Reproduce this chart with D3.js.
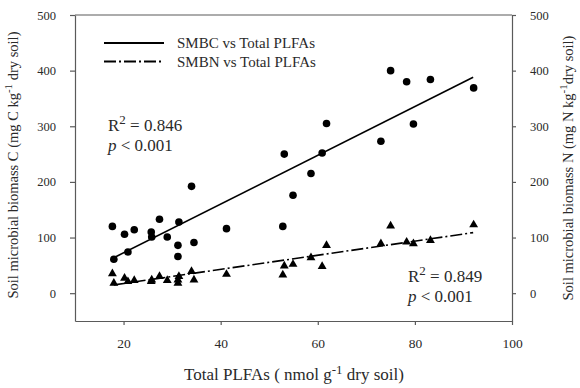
<!DOCTYPE html>
<html>
<head>
<meta charset="utf-8">
<script src="https://cdn.jsdelivr.net/npm/d3@7"></script>
<style>
    body { margin: 0; background: #fff; }
    svg text { font-family: 'Liberation Serif', 'Times New Roman', serif; fill: #2a2a2a; }
</style>
</head>
<body>
<svg id="chart" width="580" height="388"></svg>
<script>
'use strict';

// samples: total PLFAs vs microbial biomass C and N
let plfa = [17.7, 18.0, 20.2, 20.9, 22.2, 25.7, 25.8, 27.4, 29.0, 31.4, 31.2, 31.2,
    34.0, 34.5, 41.2, 52.8, 53.1, 54.9, 58.6, 60.9, 61.8, 73.0, 75.0, 78.3, 79.7, 83.2, 92.1];
let smbc = [120, 61, 106, 74, 114, 110, 101, 133, 101, 128, 86, 66,
    192, 91, 116, 120, 250, 176, 215, 252, 305, 273, 400, 380, 304, 384, 369];
let smbn = [35, 18, 27, 21, 23, 21, 24, 30, 23, 30, 24, 18,
    39, 24, 34, 33, 49, 52, 64, 48, 86, 89, 121, 92, 89, 95, 123];

// fitted lines: [slope, intercept]
let fitC = [4.38, -15];
let fitN = [1.27, -8];
let fitRange = [18, 92];

let xTicks = [20, 40, 60, 80, 100];
let yTicks = [0, 100, 200, 300, 400, 500];

let margin = {top: 15, right: 68, bottom: 67, left: 75};
let width = 580 - margin.left - margin.right;
let height = 388 - margin.top - margin.bottom;

let svg = d3.select('#chart');
let g = svg.append('g')
    .attr('transform', 'translate(' + margin.left + ',' + margin.top + ')');

let x = d3.scaleLinear().domain([10, 100]).range([0, width]);
let y = d3.scaleLinear().domain([-50, 500]).range([height, 0]);

let axisColor = '#5a5a5a';

function styleAxis(size) {
    return function(sel) {
        sel.selectAll('path, line').attr('stroke', axisColor).attr('stroke-width', 1.2);
        sel.selectAll('text').style('font-size', size).attr('fill', '#2a2a2a')
            .style('font-family', "'Liberation Serif', serif");
    };
}

g.append('g')
    .attr('transform', 'translate(0,' + height + ')')
    .call(d3.axisBottom(x).tickValues(xTicks).tickSize(4).tickSizeOuter(0).tickPadding(13))
    .call(styleAxis('13.5px'));

g.append('g')
    .call(d3.axisLeft(y).tickValues(yTicks).tickSize(5).tickSizeOuter(0).tickPadding(14))
    .call(styleAxis('12.5px'));

g.append('g')
    .attr('transform', 'translate(' + width + ',0)')
    .call(d3.axisRight(y).tickValues(yTicks).tickSize(4).tickSizeOuter(0).tickPadding(14))
    .call(styleAxis('12.5px'));

// top frame
g.append('line')
    .attr('x1', 0).attr('x2', width).attr('y1', 0).attr('y2', 0)
    .attr('stroke', axisColor).attr('stroke-width', 1.2);

// fit lines
let dashN = '12,3,2,3';
function fitLine(f, dash) {
    g.append('line')
        .attr('x1', x(fitRange[0])).attr('y1', y(f[0] * fitRange[0] + f[1]))
        .attr('x2', x(fitRange[1])).attr('y2', y(f[0] * fitRange[1] + f[1]))
        .attr('stroke', '#000').attr('stroke-width', 1.6)
        .attr('stroke-dasharray', dash);
}
fitLine(fitC, null);
fitLine(fitN, dashN);

// points
g.selectAll('.circ')
    .data(plfa)
    .enter().append('circle')
    .attr('class', 'circ')
    .attr('cx', function(d) {
        return x(d);
    })
    .attr('cy', function(d, i) {
        return y(smbc[i]);
    })
    .attr('r', 3.8)
    .attr('fill', '#000');

let tri = d3.symbol().type(d3.symbolTriangle).size(34);
g.selectAll('.tri')
    .data(plfa)
    .enter().append('path')
    .attr('class', 'tri')
    .attr('d', tri)
    .attr('transform', function(d, i) {
        return 'translate(' + x(d) + ',' + y(smbn[i]) + ')';
    })
    .attr('fill', '#000');

// legend
let legend = [
    {label: 'SMBC vs Total PLFAs', dash: null},
    {label: 'SMBN vs Total PLFAs', dash: dashN},
];
let lg = svg.append('g').attr('transform', 'translate(104,43)');
legend.forEach(function(d, i) {
    lg.append('line')
        .attr('x1', 0).attr('x2', 60).attr('y1', i * 18.5).attr('y2', i * 18.5)
        .attr('stroke', '#000').attr('stroke-width', 1.8)
        .attr('stroke-dasharray', d.dash);
    lg.append('text')
        .attr('x', 73).attr('y', i * 18.5 + 5)
        .style('font-size', '15px')
        .text(d.label);
});

// statistics
function stats(px, py, r2, gap) {
    let t = svg.append('text').attr('x', px).attr('y', py).style('font-size', '17px');
    t.append('tspan').text('R');
    t.append('tspan').attr('dy', -7).style('font-size', '13px').text('2');
    t.append('tspan').attr('dy', 7).text(' = ' + r2);
    let p = svg.append('text').attr('x', px).attr('y', py + gap).style('font-size', '17px');
    p.append('tspan').style('font-style', 'italic').text('p');
    p.append('tspan').text(' < 0.001');
}
stats(108, 131, '0.846', 20);
stats(408, 282, '0.849', 20);

// axis titles
function sup(t, parts, s) {
    t.append('tspan').text(parts[0]);
    t.append('tspan').attr('dy', -6).style('font-size', s).text(parts[1]);
    t.append('tspan').attr('dy', 6).text(parts[2]);
}

let xt = svg.append('text')
    .attr('x', 294).attr('y', 380)
    .attr('text-anchor', 'middle')
    .style('font-size', '17px');
sup(xt, ['Total PLFAs ( nmol g', '-1', ' dry soil)'], '13px');

let ylt = svg.append('text')
    .attr('transform', 'translate(18,' + (margin.top + height / 2 - 3) + ') rotate(-90)')
    .attr('text-anchor', 'middle')
    .style('font-size', '14.5px');
sup(ylt, ['Soil microbial biomass C (mg C kg', '-1', ' dry soil)'], '11px');

let yrt = svg.append('text')
    .attr('transform', 'translate(573,' + (margin.top + height / 2) + ') rotate(-90)')
    .attr('text-anchor', 'middle')
    .style('font-size', '14.5px');
sup(yrt, ['Soil microbial biomass N (mg N kg', '-1', 'dry soil)'], '11px');
</script>
</body>
</html>
